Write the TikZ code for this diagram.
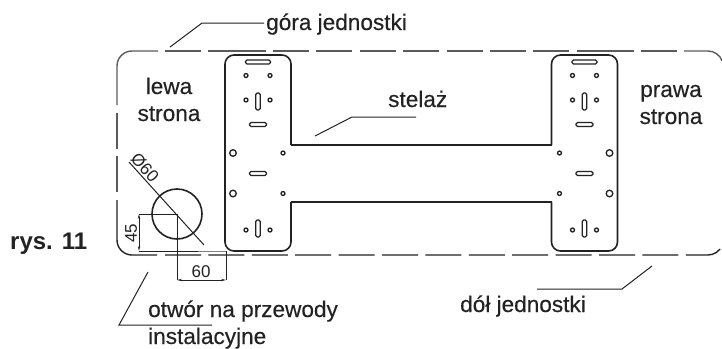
\documentclass[tikz,border=0pt]{standalone}
\usepackage{fontspec}
\setmainfont{Liberation Sans}
\newfontfamily\lblfont{Liberation Sans}[FakeBold=0.35]
\usetikzlibrary{positioning}
\usetikzlibrary{arrows.meta}

\definecolor{ink}{HTML}{222222}
\definecolor{rimgray}{HTML}{5A5A5A}

\tikzset{
    label text/.style = {font=\lblfont\fontsize{22.6}{27}\selectfont, text=ink, align=center, anchor=base},
    dim text/.style = {font=\fontsize{17}{17}\selectfont, text=ink, inner sep=0pt},
    plate/.style = {line width=1.6pt, draw=ink},
    thinhole/.style = {line width=1.3pt, draw=ink},
    rim/.style = {line width=1.4pt, draw=rimgray},
    rimdash/.style = {rim, dash pattern=on 36pt off 7.4pt},
    leader/.style = {line width=1pt, draw=ink},
    dim/.style = {line width=0.8pt, draw=ink},
    dimarrow/.style = {dim, {Stealth[length=5pt,width=2.4pt]}-{Stealth[length=5pt,width=2.4pt]}},
}

\begin{document}
\begin{tikzpicture}[x=1pt, y=-1pt, every node/.style = {inner sep=2pt}]
\useasboundingbox (0,0) rectangle (722,348);

% outline of the unit
\draw[rim] (165,51) -- (201,51);
\draw[rim] (208,51) -- (266,51);
\draw[rimdash] (273,51) -- (570,51);
\draw[rim] (577,51) -- (634,51);
\draw[rim] (641,51) -- (677,51);
\draw[rim] (684,51) -- (708,51) arc[start angle=270, end angle=340, radius=15];
\draw[rim] (158,51) -- (132,51) arc[start angle=270, end angle=180, radius=15] -- (117,105);
\draw[rimdash] (117,113) -- (117,192);
\draw[rim,draw=ink] (117,200) -- (117,240) arc[start angle=180, end angle=90, radius=15] -- (157,255);
\draw[rimdash,draw=ink] (165,255) -- (708,255) arc[start angle=90, end angle=20, radius=15];

% the two plates of the rack
\foreach \px/\dir in {258/1, 584.5/-1} {
\begin{scope}[xshift=\px, xscale=\dir]
    \draw[plate, rounded corners=9pt] (33,145) -- (33,55) -- (-33,55) -- (-33,251) -- (33,251) -- (33,202);
    \foreach \hx/\hy in {-12/75.5, 12/75.5, -12/100, 12/100, 25/153, 25/193.5, -12/230, 12/230}
        \draw[thinhole] (\hx,\hy) circle[radius=2];
    \foreach \hy in {153, 193.5}
        \draw[thinhole] (-25,\hy) circle[radius=3.3];
    \draw[thinhole, rounded corners=1.5pt] (-12.5,60) rectangle (12.5,64);
    \foreach \hy in {122.5, 171.5}
        \draw[thinhole, rounded corners=1.5pt] (-8.5,\hy) rectangle (8.5,\hy+4);
    \foreach \hy in {93, 220}
        \draw[thinhole, rounded corners=1.5pt] (-2.2,\hy) rectangle (2.2,\hy+17);
\end{scope}
}
\draw[plate] (291,145) -- (552,145);
\draw[plate] (291,202) -- (552,202);

% cable hole and its dimensions
\coordinate (hole) at (177,214);
\coordinate (dia a) at (129,162);
\coordinate (dia b) at (204,245);
\coordinate (ext45 a) at (139,214);
\coordinate (ext45 b) at (139,251);
\coordinate (ext45 c) at (198,251);
\coordinate (ext60 a) at (177,280);
\coordinate (ext60 b) at (226,280);
\coordinate (ext60 c) at (226,251);

\draw[thinhole, line width=1.6pt] (hole) circle[radius=25];
\draw[dim, line width=1pt] (dia a) -- (dia b);
\draw[dim] (hole) -- (ext45 a);
\draw[dim] (ext45 b) -- (ext45 c);
\draw[dim, draw=gray] (ext45 c) -- (ext60 c);
\draw[dim] (hole) -- (ext60 a);
\draw[dim] (ext60 c) -- (ext60 b);
\draw[dimarrow] (ext45 a) -- (ext45 b);
\draw[dimarrow] (ext60 a) -- (ext60 b);

\node[dim text, rotate=-48] (dia60) at (145,168) {Ø60};
\node[dim text, rotate=90] (dim45) at (131,233) {45};
\node[dim text] (dim60) at (201,272) {60};

% labels
\node[label text, anchor=base west] (gora) at (264,30) {góra jednostki};
\node[label text] (lewa) at (169,121) {lewa\\strona};
\node[label text] (prawa) at (671,124) {prawa\\strona};
\node[label text, anchor=base west] (stelaz) at (386,107) {stelaż};
\node[label text, anchor=base west] (dol) at (458,312) {dół jednostki};
\node[label text, anchor=base west, align=left] (otwor) at (146,344) {otwór na przewody\\instalacyjne};
\node[label text, anchor=base west, font=\fontsize{24}{28}\selectfont\bfseries] (rys) at (8,249) {rys. 11};

% leader lines
\coordinate (gora a) at (170,47);
\coordinate (gora b) at (202,23);
\coordinate (stelaz a) at (315,136);
\coordinate (stelaz b) at (352,117);
\coordinate (stelaz c) at (416,117);
\coordinate (dol a) at (652,266);
\coordinate (dol b) at (622,289);
\coordinate (dol c) at (537,289);
\coordinate (otwor a) at (148,272);
\coordinate (otwor b) at (119,325);
\coordinate (otwor c) at (212,325);

\draw[leader] (gora a) -- (gora b) -- (gora b -| gora.west);
\draw[leader] (stelaz a) -- (stelaz b) -- (stelaz c);
\draw[leader] (dol a) -- (dol b) -- (dol c);
\draw[leader] (otwor a) -- (otwor b) -- (otwor c);
\end{tikzpicture}
\end{document}
